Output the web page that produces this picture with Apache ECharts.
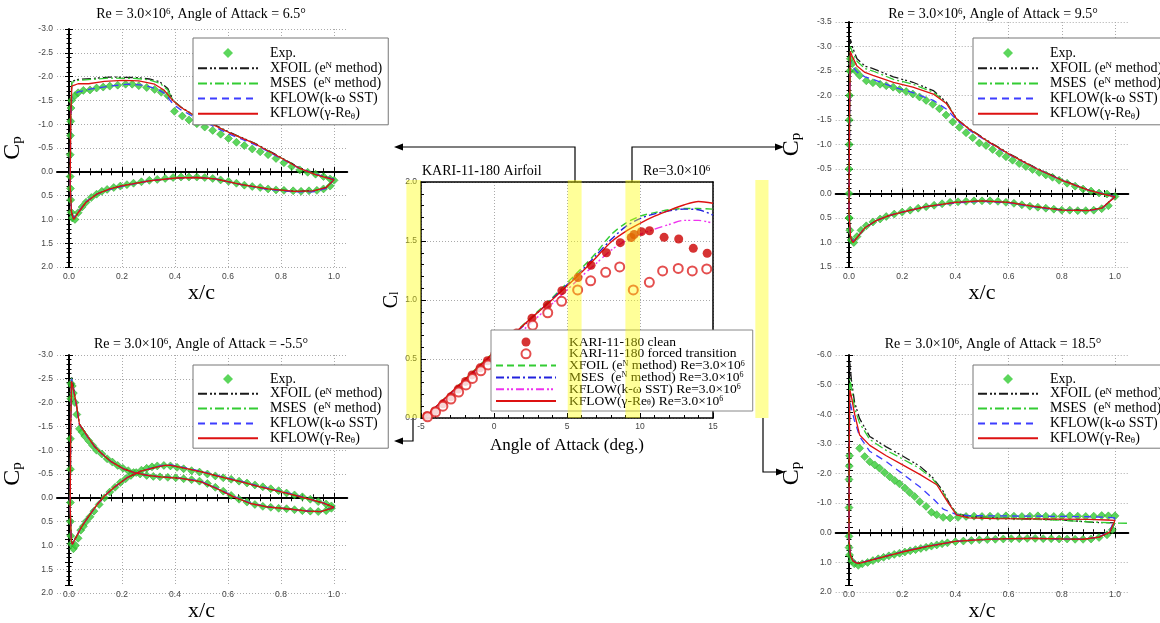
<!DOCTYPE html>
<html><head><meta charset="utf-8">
<script src="https://cdn.jsdelivr.net/npm/echarts@6/dist/echarts.min.js"></script>
<style>html,body{margin:0;padding:0;background:#fff}#c{width:1160px;height:623px}</style>
</head><body><div id="c"></div>
<script>
// ---------------- Central Cl data ----------------
const cleanAlpha = [-4.6,-4.05,-3.5,-2.95,-2.45,-1.95,-1.5,-0.95,-0.45,0.05,0.55,1.05,1.55,2.6,3.65,4.65,5.75,6.65,7.7,8.65,9.4,9.6,10.1,10.65,11.65,12.65,13.65,14.6];
const cleanCl    = [0.02,0.06,0.12,0.18,0.245,0.31,0.365,0.425,0.485,0.54,0.6,0.66,0.72,0.845,0.957,1.079,1.19,1.294,1.40,1.486,1.53,1.555,1.579,1.587,1.531,1.517,1.438,1.396];
const forcedAlpha = [-4.55,-4.0,-3.5,-2.95,-2.42,-1.92,-1.48,-0.9,-0.4,0.1,0.6,1.1,1.6,2.65,3.68,4.63,5.73,6.62,7.65,8.61,9.54,10.64,11.55,12.62,13.58,14.57];
const forcedCl    = [0.01,0.05,0.1,0.16,0.22,0.28,0.335,0.4,0.45,0.5,0.55,0.6,0.65,0.785,0.892,0.989,1.085,1.163,1.235,1.28,1.085,1.15,1.246,1.268,1.246,1.263];
const lineAlpha = [-4.8,-3,-1,0,2,4,6,7,8,9,10,11,12,13,14,15];
const xfoilCl = [0,0.21,0.445,0.56,0.79,1.02,1.27,1.40,1.55,1.65,1.71,1.74,1.765,1.775,1.775,1.77];
const msesCl  = [0,0.205,0.435,0.55,0.78,1.01,1.25,1.38,1.51,1.62,1.69,1.73,1.755,1.77,1.765,1.72];
const sstCl   = [0,0.2,0.42,0.525,0.745,0.97,1.2,1.31,1.42,1.5,1.555,1.6,1.64,1.675,1.675,1.65];
const gamCl   = [0,0.21,0.44,0.555,0.785,1.005,1.235,1.36,1.49,1.58,1.65,1.71,1.76,1.805,1.835,1.82];
const bands = [[-6,-5],[5.05,6],[9,10],[17.9,18.8]];
const clXTicks = [-5,0,5,10,15];

// ---------------- Cp data: AoA 6.5 (top-left) ----------------
const tlExpUp = [[0,0.1],[0,-0.36],[0.001,-0.76],[0.002,-1.06],[0.003,-1.34],[0.005,-1.5],[0.018,-1.6],[0.03,-1.66],[0.05,-1.71],[0.075,-1.72],[0.1,-1.76],[0.125,-1.78],[0.15,-1.8],[0.18,-1.82],[0.21,-1.84],[0.235,-1.84],[0.26,-1.81],[0.29,-1.77],[0.32,-1.73],[0.345,-1.67],[0.37,-1.6],[0.395,-1.27],[0.425,-1.17],[0.45,-1.09],[0.48,-1.01],[0.51,-0.94],[0.54,-0.87],[0.57,-0.79],[0.6,-0.7],[0.63,-0.62],[0.66,-0.55],[0.69,-0.48],[0.72,-0.42],[0.75,-0.36],[0.78,-0.28],[0.81,-0.19],[0.84,-0.11],[0.87,-0.04],[0.9,0.01],[0.93,0.05],[0.96,0.1],[0.985,0.15],[1.0,0.18]];
const tlExpLo = [[0.001,0.35],[0.002,0.59],[0.004,0.85],[0.008,0.97],[0.018,1.0],[0.03,0.86],[0.045,0.74],[0.06,0.64],[0.08,0.54],[0.1,0.47],[0.12,0.41],[0.14,0.37],[0.165,0.33],[0.19,0.3],[0.215,0.27],[0.24,0.24],[0.27,0.21],[0.3,0.18],[0.33,0.16],[0.36,0.14],[0.39,0.12],[0.42,0.11],[0.45,0.11],[0.48,0.11],[0.51,0.12],[0.54,0.14],[0.57,0.17],[0.6,0.2],[0.63,0.24],[0.66,0.28],[0.69,0.31],[0.72,0.33],[0.75,0.36],[0.78,0.38],[0.81,0.39],[0.845,0.4],[0.875,0.41],[0.905,0.4],[0.935,0.39],[0.96,0.36],[0.985,0.3]];
const tlXfoilUp = [[0,0.3],[0.002,-1.2],[0.006,-1.9],[0.03,-1.94],[0.08,-1.96],[0.15,-1.99],[0.25,-1.98],[0.3,-1.95],[0.34,-1.89],[0.37,-1.75],[0.39,-1.5],[0.42,-1.36],[0.46,-1.22],[0.52,-1.06],[0.6,-0.84],[0.7,-0.6],[0.8,-0.3],[0.87,-0.08],[0.93,0.05],[1.0,0.16]];
const tlXfoilLo = [[0,0.3],[0.005,0.85],[0.013,1.0],[0.03,0.86],[0.06,0.64],[0.1,0.47],[0.15,0.36],[0.2,0.29],[0.3,0.19],[0.4,0.13],[0.48,0.12],[0.55,0.15],[0.65,0.27],[0.75,0.36],[0.85,0.41],[0.92,0.4],[0.97,0.33],[1.0,0.16]];
const tlMsesUp = [[0,0.3],[0.002,-1.2],[0.006,-1.88],[0.03,-1.92],[0.08,-1.94],[0.15,-1.97],[0.25,-1.96],[0.3,-1.93],[0.34,-1.86],[0.37,-1.72],[0.39,-1.5],[0.42,-1.35],[0.46,-1.21],[0.52,-1.05],[0.6,-0.83],[0.7,-0.59],[0.8,-0.29],[0.87,-0.07],[0.93,0.06],[1.0,0.17]];
const tlMsesLo = [[0,0.3],[0.005,0.85],[0.013,1.0],[0.03,0.86],[0.06,0.64],[0.1,0.47],[0.15,0.37],[0.2,0.3],[0.3,0.19],[0.4,0.13],[0.48,0.12],[0.55,0.15],[0.65,0.27],[0.75,0.36],[0.85,0.41],[0.92,0.4],[0.97,0.33],[1.0,0.17]];
const tlSstUp = [[0,0.3],[0.002,-1.1],[0.006,-1.6],[0.03,-1.68],[0.08,-1.74],[0.15,-1.8],[0.22,-1.84],[0.28,-1.82],[0.33,-1.74],[0.36,-1.64],[0.39,-1.42],[0.42,-1.3],[0.46,-1.18],[0.52,-1.02],[0.6,-0.8],[0.7,-0.57],[0.8,-0.28],[0.87,-0.07],[0.93,0.05],[1.0,0.16]];
const tlSstLo = [[0,0.3],[0.005,0.82],[0.013,0.98],[0.03,0.85],[0.06,0.63],[0.1,0.47],[0.15,0.37],[0.2,0.3],[0.3,0.19],[0.4,0.13],[0.48,0.12],[0.55,0.15],[0.65,0.27],[0.75,0.37],[0.85,0.42],[0.92,0.42],[0.97,0.35],[1.0,0.16]];
const tlGamUp = [[0,0.3],[0.002,-1.15],[0.006,-1.8],[0.03,-1.85],[0.07,-1.85],[0.13,-1.9],[0.2,-1.92],[0.26,-1.91],[0.32,-1.84],[0.355,-1.72],[0.39,-1.49],[0.42,-1.35],[0.46,-1.22],[0.52,-1.05],[0.6,-0.83],[0.7,-0.59],[0.8,-0.29],[0.87,-0.07],[0.93,0.06],[1.0,0.17]];
const tlGamLo = [[0,0.3],[0.005,0.86],[0.013,1.0],[0.03,0.86],[0.06,0.64],[0.1,0.47],[0.15,0.36],[0.2,0.29],[0.3,0.19],[0.4,0.13],[0.48,0.12],[0.55,0.15],[0.65,0.27],[0.75,0.36],[0.85,0.41],[0.92,0.4],[0.97,0.33],[1.0,0.17]];

// ---------------- Cp data: AoA 9.5 (top-right) ----------------
const trExpUp = [[0,0.5],[0,0],[0,-0.5],[0.001,-1.0],[0.001,-1.5],[0.002,-2.0],[0.003,-2.5],[0.005,-2.75],[0.012,-2.65],[0.025,-2.5],[0.04,-2.41],[0.065,-2.3],[0.09,-2.26],[0.117,-2.23],[0.14,-2.2],[0.166,-2.17],[0.19,-2.12],[0.215,-2.08],[0.24,-2.03],[0.265,-1.97],[0.29,-1.9],[0.315,-1.82],[0.34,-1.73],[0.365,-1.6],[0.39,-1.46],[0.415,-1.35],[0.44,-1.24],[0.465,-1.14],[0.49,-1.03],[0.515,-0.98],[0.54,-0.9],[0.565,-0.82],[0.59,-0.75],[0.615,-0.68],[0.64,-0.61],[0.665,-0.55],[0.69,-0.49],[0.715,-0.43],[0.74,-0.38],[0.765,-0.33],[0.79,-0.27],[0.82,-0.21],[0.85,-0.15],[0.88,-0.09],[0.91,-0.05],[0.94,-0.01],[0.97,0.01],[1.0,0.06]];
const trExpLo = [[0.001,0.5],[0.003,0.75],[0.008,0.95],[0.018,1.0],[0.03,0.88],[0.045,0.75],[0.065,0.66],[0.09,0.58],[0.117,0.52],[0.14,0.47],[0.17,0.42],[0.2,0.38],[0.23,0.34],[0.26,0.3],[0.29,0.27],[0.32,0.24],[0.35,0.21],[0.38,0.18],[0.41,0.17],[0.44,0.16],[0.47,0.15],[0.5,0.15],[0.53,0.15],[0.56,0.16],[0.59,0.18],[0.62,0.2],[0.65,0.23],[0.68,0.26],[0.71,0.28],[0.74,0.3],[0.77,0.32],[0.8,0.34],[0.83,0.34],[0.86,0.35],[0.89,0.35],[0.92,0.34],[0.95,0.31],[0.975,0.25]];
const trXfoilUp = [[0,0.4],[0.002,-1.5],[0.005,-3.15],[0.012,-3.0],[0.03,-2.75],[0.06,-2.6],[0.09,-2.55],[0.167,-2.38],[0.24,-2.27],[0.317,-2.1],[0.367,-1.86],[0.405,-1.52],[0.45,-1.33],[0.52,-1.08],[0.6,-0.82],[0.7,-0.53],[0.8,-0.28],[0.9,-0.07],[0.96,0.02],[1.0,0.06]];
const trXfoilLo = [[0,0.4],[0.006,0.9],[0.015,1.0],[0.03,0.9],[0.06,0.7],[0.1,0.56],[0.15,0.45],[0.2,0.38],[0.29,0.27],[0.4,0.18],[0.5,0.15],[0.6,0.18],[0.7,0.27],[0.8,0.33],[0.9,0.34],[0.95,0.3],[1.0,0.06]];
const trMsesUp = [[0,0.4],[0.002,-1.5],[0.005,-3.0],[0.012,-2.9],[0.03,-2.7],[0.06,-2.55],[0.09,-2.5],[0.167,-2.33],[0.24,-2.23],[0.317,-2.07],[0.367,-1.84],[0.405,-1.52],[0.45,-1.32],[0.52,-1.07],[0.6,-0.81],[0.7,-0.52],[0.8,-0.27],[0.9,-0.06],[0.96,0.02],[1.0,0.06]];
const trMsesLo = [[0,0.4],[0.006,0.9],[0.015,1.0],[0.03,0.9],[0.06,0.7],[0.1,0.56],[0.15,0.45],[0.2,0.38],[0.29,0.27],[0.4,0.18],[0.5,0.15],[0.6,0.18],[0.7,0.27],[0.8,0.33],[0.9,0.34],[0.95,0.3],[1.0,0.06]];
const trSstUp = [[0,0.4],[0.002,-1.4],[0.005,-2.7],[0.012,-2.6],[0.03,-2.48],[0.06,-2.38],[0.09,-2.33],[0.167,-2.17],[0.24,-2.06],[0.317,-1.9],[0.367,-1.72],[0.405,-1.5],[0.45,-1.3],[0.52,-1.06],[0.6,-0.8],[0.7,-0.52],[0.8,-0.27],[0.9,-0.07],[0.96,0.01],[1.0,0.06]];
const trSstLo = [[0,0.4],[0.006,0.88],[0.015,0.98],[0.03,0.9],[0.06,0.7],[0.1,0.56],[0.15,0.45],[0.2,0.38],[0.29,0.27],[0.4,0.19],[0.5,0.16],[0.6,0.19],[0.7,0.28],[0.8,0.34],[0.9,0.35],[0.95,0.31],[1.0,0.06]];
const trGamUp = [[0,0.4],[0.002,-1.5],[0.005,-2.9],[0.012,-2.8],[0.03,-2.6],[0.06,-2.47],[0.09,-2.41],[0.167,-2.27],[0.24,-2.17],[0.317,-2.03],[0.367,-1.83],[0.405,-1.52],[0.45,-1.32],[0.52,-1.07],[0.6,-0.81],[0.7,-0.52],[0.8,-0.27],[0.9,-0.07],[0.96,0.02],[1.0,0.07]];
const trGamLo = [[0,0.4],[0.006,0.9],[0.015,1.0],[0.03,0.9],[0.06,0.7],[0.1,0.56],[0.15,0.45],[0.2,0.38],[0.29,0.27],[0.4,0.18],[0.5,0.15],[0.6,0.18],[0.7,0.27],[0.8,0.34],[0.9,0.35],[0.95,0.3],[1.0,0.07]];

// ---------------- Cp data: AoA -5.5 (bottom-left) ----------------
const blExpA = [[0.001,0.1],[0.001,-0.6],[0.001,-1.24],[0.002,-2.08],[0.003,-2.4],[0.008,-2.35],[0.012,-2.2],[0.018,-2.0],[0.025,-1.75],[0.035,-1.45],[0.045,-1.38],[0.055,-1.3],[0.07,-1.2],[0.085,-1.1],[0.1,-1.0],[0.12,-0.92],[0.14,-0.82],[0.16,-0.75],[0.18,-0.68],[0.2,-0.62],[0.22,-0.57],[0.24,-0.53],[0.265,-0.5],[0.29,-0.47],[0.315,-0.45],[0.34,-0.44],[0.37,-0.43],[0.4,-0.42],[0.43,-0.4],[0.46,-0.38],[0.49,-0.35],[0.52,-0.3],[0.55,-0.22],[0.58,-0.14],[0.61,-0.05],[0.64,0.03],[0.67,0.09],[0.7,0.14],[0.73,0.18],[0.76,0.2],[0.79,0.22],[0.82,0.23],[0.85,0.25],[0.88,0.27],[0.91,0.28],[0.94,0.29],[0.97,0.27],[0.99,0.22]];
const blExpB = [[0.001,0.5],[0.002,0.8],[0.004,0.97],[0.012,1.07],[0.02,1.0],[0.03,0.85],[0.04,0.68],[0.05,0.6],[0.06,0.5],[0.075,0.4],[0.09,0.28],[0.11,0.14],[0.13,0.0],[0.15,-0.12],[0.17,-0.22],[0.19,-0.32],[0.21,-0.4],[0.23,-0.47],[0.25,-0.53],[0.27,-0.58],[0.29,-0.62],[0.31,-0.65],[0.33,-0.67],[0.355,-0.68],[0.38,-0.67],[0.405,-0.64],[0.43,-0.61],[0.46,-0.57],[0.49,-0.54],[0.52,-0.5],[0.55,-0.46],[0.58,-0.42],[0.61,-0.39],[0.64,-0.35],[0.67,-0.31],[0.7,-0.27],[0.73,-0.23],[0.76,-0.19],[0.79,-0.15],[0.82,-0.1],[0.85,-0.06],[0.88,-0.02],[0.91,0.03],[0.94,0.08],[0.97,0.13],[0.99,0.17]];
const blXfoilA = [[0,0.2],[0.002,-1.5],[0.005,-2.55],[0.01,-2.38],[0.023,-1.98],[0.035,-1.55],[0.067,-1.28],[0.092,-1.08],[0.117,-0.94],[0.155,-0.76],[0.205,-0.6],[0.243,-0.53],[0.293,-0.47],[0.343,-0.44],[0.42,-0.41],[0.494,-0.34],[0.557,-0.19],[0.62,-0.02],[0.683,0.12],[0.746,0.19],[0.82,0.23],[0.9,0.28],[0.95,0.29],[1.0,0.2]];
const blXfoilB = [[0,0.2],[0.004,0.9],[0.008,0.98],[0.015,0.95],[0.042,0.62],[0.067,0.41],[0.104,0.13],[0.13,-0.04],[0.167,-0.22],[0.218,-0.43],[0.268,-0.56],[0.331,-0.65],[0.36,-0.68],[0.381,-0.68],[0.419,-0.64],[0.494,-0.55],[0.57,-0.44],[0.645,-0.34],[0.72,-0.23],[0.796,-0.13],[0.86,-0.04],[0.92,0.05],[0.96,0.11],[1.0,0.2]];
const blMsesA = [[0,0.2],[0.002,-1.5],[0.005,-2.52],[0.01,-2.36],[0.023,-1.97],[0.035,-1.55],[0.067,-1.28],[0.092,-1.08],[0.117,-0.94],[0.155,-0.76],[0.205,-0.6],[0.243,-0.53],[0.293,-0.47],[0.343,-0.44],[0.42,-0.41],[0.494,-0.34],[0.557,-0.19],[0.62,-0.02],[0.683,0.12],[0.746,0.19],[0.82,0.23],[0.9,0.28],[0.95,0.29],[1.0,0.2]];
const blMsesB = [[0,0.2],[0.004,0.9],[0.008,0.98],[0.015,0.95],[0.042,0.62],[0.067,0.41],[0.104,0.13],[0.13,-0.04],[0.167,-0.22],[0.218,-0.43],[0.268,-0.56],[0.331,-0.65],[0.36,-0.68],[0.381,-0.68],[0.419,-0.64],[0.494,-0.55],[0.57,-0.44],[0.645,-0.34],[0.72,-0.23],[0.796,-0.13],[0.86,-0.04],[0.92,0.05],[0.96,0.11],[1.0,0.2]];
const blSstA = [[0,0.2],[0.002,-1.5],[0.005,-2.5],[0.01,-2.35],[0.023,-1.97],[0.035,-1.54],[0.067,-1.27],[0.092,-1.08],[0.117,-0.94],[0.155,-0.76],[0.205,-0.6],[0.243,-0.53],[0.293,-0.47],[0.343,-0.44],[0.42,-0.41],[0.494,-0.35],[0.557,-0.2],[0.62,-0.03],[0.683,0.11],[0.746,0.19],[0.82,0.23],[0.9,0.28],[0.95,0.29],[1.0,0.2]];
const blSstB = [[0,0.2],[0.004,0.88],[0.008,0.97],[0.015,0.95],[0.042,0.62],[0.067,0.41],[0.104,0.13],[0.13,-0.04],[0.167,-0.22],[0.218,-0.43],[0.268,-0.56],[0.331,-0.66],[0.36,-0.69],[0.381,-0.69],[0.419,-0.65],[0.494,-0.56],[0.57,-0.45],[0.645,-0.35],[0.72,-0.24],[0.796,-0.14],[0.86,-0.05],[0.92,0.05],[0.96,0.11],[1.0,0.2]];
const blGamA = [[0,0.2],[0.002,-1.5],[0.005,-2.45],[0.01,-2.33],[0.023,-1.98],[0.035,-1.55],[0.067,-1.28],[0.092,-1.08],[0.117,-0.94],[0.155,-0.76],[0.205,-0.6],[0.243,-0.53],[0.293,-0.47],[0.343,-0.44],[0.42,-0.41],[0.494,-0.34],[0.557,-0.19],[0.62,-0.02],[0.683,0.12],[0.746,0.19],[0.82,0.23],[0.9,0.28],[0.95,0.29],[1.0,0.2]];
const blGamB = [[0,0.2],[0.004,0.9],[0.008,0.98],[0.015,0.95],[0.042,0.62],[0.067,0.41],[0.104,0.13],[0.13,-0.04],[0.167,-0.22],[0.218,-0.43],[0.268,-0.56],[0.331,-0.65],[0.36,-0.68],[0.381,-0.68],[0.419,-0.64],[0.494,-0.55],[0.57,-0.44],[0.645,-0.34],[0.72,-0.23],[0.796,-0.13],[0.86,-0.04],[0.92,0.05],[0.96,0.11],[1.0,0.2]];

// ---------------- Cp data: AoA 18.5 (bottom-right) ----------------
const brExpUp = [[0,0.12],[0,-0.85],[0,-1.8],[0.001,-2.25],[0.002,-2.6],[0.04,-2.85],[0.059,-2.57],[0.078,-2.4],[0.097,-2.29],[0.115,-2.18],[0.134,-2.03],[0.153,-1.89],[0.172,-1.76],[0.19,-1.65],[0.21,-1.51],[0.228,-1.36],[0.247,-1.22],[0.266,-1.05],[0.29,-0.89],[0.31,-0.69],[0.33,-0.61],[0.354,-0.52],[0.38,-0.5],[0.41,-0.52],[0.44,-0.55],[0.47,-0.56],[0.5,-0.55],[0.53,-0.56],[0.56,-0.55],[0.59,-0.57],[0.62,-0.56],[0.65,-0.55],[0.68,-0.56],[0.71,-0.57],[0.74,-0.56],[0.77,-0.55],[0.8,-0.56],[0.83,-0.57],[0.86,-0.56],[0.89,-0.55],[0.92,-0.56],[0.95,-0.58],[0.975,-0.57],[1.0,-0.57]];
const brExpLo = [[0,0.5],[0.002,0.75],[0.01,0.95],[0.02,1.05],[0.035,1.1],[0.05,1.05],[0.07,1.0],[0.09,0.94],[0.11,0.88],[0.13,0.83],[0.15,0.78],[0.17,0.73],[0.19,0.69],[0.21,0.65],[0.23,0.61],[0.25,0.57],[0.27,0.53],[0.29,0.49],[0.31,0.45],[0.33,0.41],[0.35,0.37],[0.37,0.34],[0.4,0.3],[0.43,0.28],[0.46,0.26],[0.49,0.24],[0.52,0.23],[0.55,0.22],[0.58,0.21],[0.61,0.2],[0.64,0.2],[0.67,0.19],[0.7,0.19],[0.73,0.2],[0.76,0.2],[0.79,0.21],[0.82,0.21],[0.85,0.22],[0.88,0.22],[0.91,0.21],[0.94,0.16],[0.97,0.07],[0.99,-0.1]];
const brXfoilUp = [[0,0.2],[0.001,-3.0],[0.003,-5.78],[0.009,-5.16],[0.021,-4.4],[0.04,-3.85],[0.078,-3.25],[0.14,-2.9],[0.2,-2.6],[0.266,-2.25],[0.316,-1.85],[0.354,-1.4],[0.38,-0.95],[0.404,-0.66],[0.45,-0.55],[0.54,-0.5],[0.7,-0.46],[0.79,-0.44],[0.92,-0.35],[1.0,-0.33]];
const brXfoilLo = [[0,0.2],[0.005,0.75],[0.015,0.95],[0.03,1.03],[0.045,1.02],[0.08,0.93],[0.14,0.79],[0.2,0.65],[0.29,0.47],[0.4,0.29],[0.5,0.23],[0.6,0.2],[0.7,0.19],[0.8,0.21],[0.88,0.22],[0.94,0.15],[0.98,0.0],[1.0,-0.33]];
const brMsesUp = [[0,0.2],[0.001,-3.0],[0.003,-5.2],[0.009,-4.9],[0.021,-4.2],[0.04,-3.7],[0.078,-3.15],[0.14,-2.78],[0.2,-2.5],[0.266,-2.17],[0.316,-1.8],[0.354,-1.35],[0.38,-0.92],[0.404,-0.66],[0.45,-0.56],[0.54,-0.5],[0.7,-0.45],[0.8,-0.42],[0.92,-0.36],[1.0,-0.33],[1.045,-0.32]];
const brMsesLo = [[0,0.2],[0.005,0.75],[0.015,0.95],[0.03,1.03],[0.045,1.02],[0.08,0.93],[0.14,0.79],[0.2,0.65],[0.29,0.47],[0.4,0.29],[0.5,0.23],[0.6,0.2],[0.7,0.19],[0.8,0.21],[0.88,0.22],[0.94,0.15],[0.98,0.0],[1.0,-0.33]];
const brSstUp = [[0,0.2],[0.001,-2.5],[0.003,-4.45],[0.009,-4.2],[0.02,-3.8],[0.04,-3.25],[0.078,-2.75],[0.14,-2.4],[0.2,-2.0],[0.266,-1.55],[0.316,-1.15],[0.354,-0.8],[0.404,-0.61],[0.45,-0.58],[0.55,-0.57],[0.7,-0.56],[0.8,-0.55],[0.9,-0.54],[0.97,-0.52],[1.0,-0.5]];
const brSstLo = [[0,0.2],[0.005,0.74],[0.015,0.94],[0.03,1.02],[0.045,1.01],[0.08,0.92],[0.14,0.78],[0.2,0.64],[0.29,0.46],[0.4,0.29],[0.5,0.23],[0.6,0.2],[0.7,0.19],[0.8,0.21],[0.88,0.22],[0.94,0.14],[0.98,-0.05],[1.0,-0.5]];
const brGamUp = [[0,0.2],[0.001,-2.8],[0.003,-4.82],[0.009,-4.6],[0.02,-4.05],[0.04,-3.3],[0.078,-2.95],[0.14,-2.6],[0.2,-2.3],[0.266,-1.97],[0.33,-1.62],[0.37,-1.05],[0.404,-0.6],[0.45,-0.5],[0.55,-0.48],[0.7,-0.47],[0.8,-0.46],[0.9,-0.45],[0.97,-0.43],[1.0,-0.42]];
const brGamLo = [[0,0.2],[0.005,0.75],[0.015,0.95],[0.03,1.03],[0.045,1.02],[0.08,0.93],[0.14,0.79],[0.2,0.65],[0.29,0.47],[0.4,0.29],[0.5,0.23],[0.6,0.2],[0.7,0.19],[0.8,0.21],[0.88,0.22],[0.94,0.15],[0.98,-0.02],[1.0,-0.42]];

// ---------------- styles ----------------
const SERIF = '"Liberation Serif", "Times New Roman", serif';
const SANS = '"Liberation Sans", Arial, sans-serif';
const C_EXP = '#33cc33', C_XF = '#1a1a1a', C_MS = '#33cc33', C_SST = '#3d3dff', C_GAM = '#dd1111';
const DASH_XF = [9,3,2,2,2,3], DASH_MS = [9,3,2,3], DASH_SST = [7,5];
const CP_NAMES = ['Exp.', 'XFOIL (eN method)', 'MSES  (eN method)', 'KFLOW(k-ω SST)', 'KFLOW(γ-Reθ)'];
const CP_LABELS = {'Exp.':'Exp.', 'XFOIL (eN method)':'XFOIL (e{sup|N} method)', 'MSES  (eN method)':'MSES  (e{sup|N} method)', 'KFLOW(k-ω SST)':'KFLOW(k-ω SST)', 'KFLOW(γ-Reθ)':'KFLOW(γ-Re{sub|θ})'};
const CL_NAMES = ['KARI-11-180 clean','KARI-11-180 forced transition','XFOIL Re','MSES Re','SST Re','GAM Re'];
const CL_LABELS = {'KARI-11-180 clean':'KARI-11-180 clean','KARI-11-180 forced transition':'KARI-11-180 forced transition',
  'XFOIL Re':'XFOIL (e{sup|N} method) Re=3.0×10{sup|6}','MSES Re':'MSES  (e{sup|N} method) Re=3.0×10{sup|6}',
  'SST Re':'KFLOW(k-ω SST) Re=3.0×10{sup|6}','GAM Re':'KFLOW(γ-Re{sub|θ}) Re=3.0×10{sup|6}'};
const DIAMOND = 'path://M5,0L10,5L5,10L0,5Z';

function richFor(fs, lh){
  return { sup:{fontSize:Math.round(fs*0.62), verticalAlign:'top', lineHeight:lh, fontFamily:SERIF, color:'#000'},
           sub:{fontSize:Math.round(fs*0.62), verticalAlign:'bottom', lineHeight:lh, fontFamily:SERIF, color:'#000'} };
}
const lineOnly = n => ({name:n, itemStyle:{opacity:0}});

const panels = [
  {x0:69, x1:334, top:29, bottom:267, min:-3, max:2, step:0.5, aoa:'6.5', tx:201, ty:7, lg:{left:193, top:38}, pad:[8,6,4,4], gap:1.2,
   exp:[tlExpUp, tlExpLo], xf:[tlXfoilUp, tlXfoilLo], ms:[tlMsesUp, tlMsesLo], sst:[tlSstUp, tlSstLo], gam:[tlGamUp, tlGamLo]},
  {x0:849, x1:1115, top:22, bottom:267, min:-3.5, max:1.5, step:0.5, aoa:'9.5', tx:993, ty:7, lg:{left:973, top:38}, pad:[8,6,4,4], gap:1.2,
   exp:[trExpUp, trExpLo], xf:[trXfoilUp, trXfoilLo], ms:[trMsesUp, trMsesLo], sst:[trSstUp, trSstLo], gam:[trGamUp, trGamLo]},
  {x0:69, x1:334, top:355, bottom:593, min:-3, max:2, step:0.5, aoa:'-5.5', tx:201, ty:337, lg:{left:193, top:365}, pad:[7,6,3,4], gap:0.8,
   exp:[blExpA, blExpB], xf:[blXfoilA, blXfoilB], ms:[blMsesA, blMsesB], sst:[blSstA, blSstB], gam:[blGamA, blGamB]},
  {x0:849, x1:1115, top:355, bottom:592, min:-6, max:2, step:1, aoa:'18.5', tx:993, ty:337, lg:{left:973, top:365}, pad:[7,6,3,4], gap:0.8,
   exp:[brExpUp, brExpLo], xf:[brXfoilUp, brXfoilLo], ms:[brMsesUp, brMsesLo], sst:[brSstUp, brSstLo], gam:[brGamUp, brGamLo]}
];

const grids=[], xAxes=[], yAxes=[], series=[], legends=[], titles=[];
const loop = (up, lo) => up.slice().reverse().concat(lo);
const dotted = {show:true, lineStyle:{color:'#aaa', type:[1,2], width:1}};
const tickLbl = {fontSize:8.5, color:'#444', fontFamily:SANS};
const blackTick = {color:'#000', width:1};

panels.forEach(p => {
  const w = p.x1 - p.x0, h = p.bottom - p.top;
  const gA = grids.length; grids.push({left:p.x0 - 0.05*w, width:1.1*w, top:p.top, height:h});
  const gB = grids.length; grids.push({left:p.x0, width:w, top:p.top, height:h});
  // thin strip on the Cp = 0 line, carrying the crossing ticks of the x/c axis
  const zeroY = p.top + (0 - p.min) / (p.max - p.min) * h;
  const gZ = grids.length; grids.push({left:p.x0, width:w, top:zeroY - 1, height:2});

  const yA = yAxes.length;
  yAxes.push({gridIndex:gA, type:'value', min:p.min, max:p.max, interval:p.step, inverse:true, position:'left',
    axisLine:{show:false, onZero:false}, axisTick:{show:false},
    axisLabel:Object.assign({formatter:v=>v.toFixed(1), margin:4}, tickLbl), splitLine:dotted,
    name:'C{sub|p}', nameLocation:'middle', nameRotate:90, nameGap:32,
    nameTextStyle:{fontFamily:SERIF, fontSize:24, color:'#000', rich:{sub:{fontSize:15, verticalAlign:'bottom', fontFamily:SERIF, color:'#000'}}}});
  [true,false].forEach(ins => yAxes.push({gridIndex:gB, type:'value', min:p.min, max:p.max, interval:p.step, inverse:true, position:'left',
    axisLine:{show:ins, onZero:false, lineStyle:{color:'#000', width:2}},
    axisTick:{show:true, inside:ins, length:4, lineStyle:blackTick},
    minorTick:{show:true, splitNumber:5, length:2.5, lineStyle:blackTick},
    axisLabel:{show:false}, splitLine:{show:false}}));
  yAxes.push({gridIndex:gZ, type:'value', min:0, max:1, show:false});

  const xA = xAxes.length;
  xAxes.push({gridIndex:gA, type:'value', min:-0.05, max:1.05,
    axisLine:{show:true, onZero:true, onZeroAxisIndex:yA, lineStyle:{color:'#000', width:2}},
    axisTick:{show:false}, axisLabel:{show:false}, splitLine:{show:false}});
  xAxes.push({gridIndex:gB, type:'value', min:0, max:1, interval:0.2, position:'bottom',
    axisLine:{show:false, onZero:false}, axisTick:{show:false},
    axisLabel:Object.assign({formatter:v=>v.toFixed(1), margin:5}, tickLbl), splitLine:dotted,
    name:'x/c', nameLocation:'middle', nameGap:5, nameTextStyle:{fontFamily:SERIF, fontSize:22, color:'#000'}});
  ['top','bottom'].forEach(pos => xAxes.push({gridIndex:gZ, type:'value', min:0, max:1, interval:0.2, position:pos,
    axisLine:{show:false, onZero:false},
    axisTick:{show:true, inside:false, length:4, lineStyle:blackTick},
    minorTick:{show:true, splitNumber:5, length:2.5, lineStyle:blackTick},
    axisLabel:{show:false}, splitLine:{show:false}}));

  series.push({name:CP_NAMES[0], type:'scatter', xAxisIndex:xA, yAxisIndex:yA, symbol:'diamond', symbolSize:8,
    itemStyle:{color:C_EXP, borderColor:'#22a022', borderWidth:0.6}, data:p.exp[0].concat(p.exp[1]), z:2, silent:true});
  const lineDefs = [[CP_NAMES[1], p.xf, C_XF, DASH_XF],[CP_NAMES[2], p.ms, C_MS, DASH_MS],[CP_NAMES[3], p.sst, C_SST, DASH_SST],[CP_NAMES[4], p.gam, C_GAM, 'solid']];
  lineDefs.forEach(([nm, d, col, dash]) => series.push({name:nm, type:'line', xAxisIndex:xA, yAxisIndex:yA, symbol:'none', showSymbol:false,
    lineStyle:{color:col, width:1.3, type:dash}, itemStyle:{color:col}, data:loop(d[0], d[1]), z:3, clip:false, silent:true}));

  legends.push({left:p.lg.left, top:p.lg.top, orient:'vertical', selectedMode:false,
    data:[{name:CP_NAMES[0], icon:DIAMOND, itemStyle:{borderWidth:0}}].concat(CP_NAMES.slice(1).map(lineOnly)),
    itemWidth:60, itemHeight:10, itemGap:p.gap, padding:p.pad, backgroundColor:'#fff', borderColor:'#777', borderWidth:1, borderRadius:0,
    formatter:n=>CP_LABELS[n], symbolKeepAspect:true,
    textStyle:{fontFamily:SERIF, fontSize:14, color:'#000', lineHeight:14, padding:[0,0,0,7], rich:richFor(14,14)}});
  titles.push({text:'Re = 3.0×10{sup|6}, Angle of Attack = '+p.aoa+'°', left:p.tx, top:p.ty, textAlign:'center', padding:0,
    textStyle:{fontFamily:SERIF, fontSize:14, fontWeight:'normal', color:'#000', lineHeight:15, rich:richFor(14,15)}});
});

// ---------------- central Cl panel ----------------
const gC = grids.length; grids.push({left:421, width:292, top:182, height:236});
const gD = grids.length; grids.push({left:421-14.6, width:25*14.6, top:180, height:238});
const xC = xAxes.length;
xAxes.push({gridIndex:gC, type:'value', min:-5, max:15, interval:5, position:'bottom',
  axisLine:{show:true, onZero:false, lineStyle:{color:'#000', width:1.5}},
  axisTick:{show:true, inside:true, length:5, lineStyle:{color:'#000'}},
  minorTick:{show:true, splitNumber:5, length:3, lineStyle:{color:'#000'}},
  axisLabel:Object.assign({margin:4, customValues:clXTicks}, tickLbl), splitLine:dotted,
  name:'Angle of Attack (deg.)', nameLocation:'middle', nameGap:19, nameTextStyle:{fontFamily:SERIF, fontSize:17, color:'#000'}});
xAxes.push({gridIndex:gC, type:'value', min:-5, max:15, position:'top', axisLine:{show:true, onZero:false, lineStyle:{color:'#000', width:1.5}},
  axisTick:{show:false}, axisLabel:{show:false}, splitLine:{show:false}});
const xD = xAxes.length;
xAxes.push({gridIndex:gD, type:'value', min:-6, max:19, show:false});
const yC = yAxes.length;
yAxes.push({gridIndex:gC, type:'value', min:0, max:2, interval:0.5, position:'left',
  axisLine:{show:true, onZero:false, lineStyle:{color:'#000', width:1.5}},
  axisTick:{show:true, inside:true, length:5, lineStyle:{color:'#000'}},
  minorTick:{show:true, splitNumber:5, length:3, lineStyle:{color:'#000'}},
  axisLabel:Object.assign({formatter:v=>v.toFixed(1), margin:4}, tickLbl), splitLine:dotted,
  name:'C{sub|l}', nameLocation:'middle', nameRotate:90, nameGap:10,
  nameTextStyle:{fontFamily:SERIF, fontSize:20, color:'#000', rich:{sub:{fontSize:12, verticalAlign:'bottom', fontFamily:SERIF, color:'#000'}}}});
yAxes.push({gridIndex:gC, type:'value', min:0, max:2, position:'right', axisLine:{show:true, onZero:false, lineStyle:{color:'#000', width:1.5}},
  axisTick:{show:false}, axisLabel:{show:false}, splitLine:{show:false}});
const yD = yAxes.length;
yAxes.push({gridIndex:gD, type:'value', min:0, max:1, show:false});

const zip = (a, b) => a.map((v, i) => [v, b[i]]);
series.push({name:CL_NAMES[0], type:'scatter', xAxisIndex:xC, yAxisIndex:yC, symbol:'circle', symbolSize:9,
  itemStyle:{color:'#cc0000'}, data:zip(cleanAlpha, cleanCl), z:3, silent:true});
series.push({name:CL_NAMES[1], type:'scatter', xAxisIndex:xC, yAxisIndex:yC, symbol:'emptyCircle', symbolSize:9,
  itemStyle:{color:'#dd2222', borderWidth:1}, data:zip(forcedAlpha, forcedCl), z:3, silent:true});
[[CL_NAMES[2], xfoilCl, '#33cc33', [7,4]], [CL_NAMES[3], msesCl, '#2222dd', [8,3,2,3]], [CL_NAMES[4], sstCl, '#ee33ee', [8,3,2,2,2,3]], [CL_NAMES[5], gamCl, '#dd1111', 'solid']]
  .forEach(([nm, d, col, dash]) => series.push({name:nm, type:'line', xAxisIndex:xC, yAxisIndex:yC, symbol:'none', smooth:0.3,
    lineStyle:{color:col, width:1.4, type:dash}, itemStyle:{color:col}, data:zip(lineAlpha, d), z:2, silent:true}));
series.push({type:'custom', xAxisIndex:xD, yAxisIndex:yD, data:bands, encode:{x:[0,1]}, z:20, silent:true, clip:false,
  renderItem:(params, api) => {
    const a = api.coord([api.value(0), 1]), b = api.coord([api.value(1), 0]);
    return {type:'rect', shape:{x:a[0], y:a[1], width:b[0]-a[0], height:b[1]-a[1]}, style:{fill:'rgba(255,255,0,0.4)'}};
  }});
legends.push({left:491, top:330, orient:'vertical', selectedMode:false,
  data:[CL_NAMES[0], CL_NAMES[1]].concat(CL_NAMES.slice(2).map(lineOnly)),
  itemWidth:60, itemHeight:9, itemGap:-2.2, padding:[5,8,3,4], backgroundColor:'#fff', borderColor:'#888', borderWidth:1,
  formatter:n=>CL_LABELS[n],
  textStyle:{fontFamily:SERIF, fontSize:13.5, color:'#000', lineHeight:12, padding:[0,0,0,8], rich:richFor(13.5,12)}});
titles.push({text:'KARI-11-180 Airfoil', left:422, top:164, padding:0, textStyle:{fontFamily:SERIF, fontSize:14, fontWeight:'normal', color:'#000'}});
titles.push({text:'Re=3.0×10{sup|6}', left:643, top:164, padding:0, textStyle:{fontFamily:SERIF, fontSize:14, fontWeight:'normal', color:'#000', lineHeight:15, rich:richFor(14,15)}});

// connector arrows (annotations)
const arrowStyle = {stroke:'#000', lineWidth:1.2, fill:null};
const graphics = [
  {type:'polyline', shape:{points:[[575,182],[575,147],[402,147]]}, style:arrowStyle},
  {type:'polygon', shape:{points:[[394,147],[403,143.5],[403,150.5]]}, style:{fill:'#000'}},
  {type:'polyline', shape:{points:[[632,182],[632,147],[776,147]]}, style:arrowStyle},
  {type:'polygon', shape:{points:[[784,147],[775,143.5],[775,150.5]]}, style:{fill:'#000'}},
  {type:'polyline', shape:{points:[[413,418],[413,441],[402,441]]}, style:arrowStyle},
  {type:'polygon', shape:{points:[[394,441],[403,437.5],[403,444.5]]}, style:{fill:'#000'}},
  {type:'polyline', shape:{points:[[763,418],[763,472],[777,472]]}, style:arrowStyle},
  {type:'polygon', shape:{points:[[785,472],[776,468.5],[776,475.5]]}, style:{fill:'#000'}}
];

const chart = echarts.init(document.getElementById('c'), null, {renderer:'canvas'});
chart.setOption({
  animation:false, backgroundColor:'#fff',
  title:titles, grid:grids, xAxis:xAxes, yAxis:yAxes, legend:legends, series:series, graphic:graphics
});
</script></body></html>
